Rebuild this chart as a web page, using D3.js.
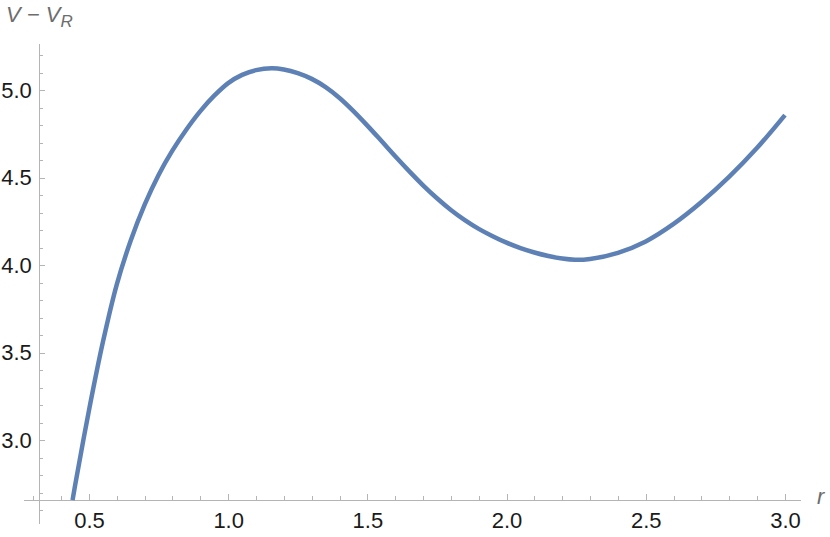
<!DOCTYPE html>
<html>
<head>
<meta charset="utf-8">
<script src="https://cdn.jsdelivr.net/npm/d3@7"></script>
<style>
  body { margin: 0; background: #fff; }
  svg text { font-family: "Liberation Sans", Arial, sans-serif; }
</style>
</head>
<body>
<svg width="830" height="537"></svg>
<script>
(function() {
  /* values */
  var rValues = [0.441, 0.45, 0.50, 0.55, 0.60, 0.65, 0.70, 0.75, 0.80, 0.85,
                 0.90, 0.95, 1.00, 1.05, 1.10, 1.156, 1.20, 1.25, 1.30, 1.35,
                 1.40, 1.45, 1.50, 1.55, 1.60, 1.65, 1.70, 1.75, 1.80, 1.85,
                 1.90, 1.95, 2.00, 2.05, 2.10, 2.15, 2.20, 2.246, 2.30, 2.40,
                 2.50, 2.60, 2.70, 2.80, 2.90, 3.00];
  var vValues = [2.657, 2.74, 3.17, 3.56, 3.89, 4.14, 4.345, 4.515, 4.655, 4.775,
                 4.88, 4.968, 5.04, 5.087, 5.114, 5.125, 5.118, 5.097, 5.064, 5.017,
                 4.955, 4.88, 4.797, 4.71, 4.622, 4.537, 4.456, 4.382, 4.315, 4.257,
                 4.207, 4.165, 4.128, 4.097, 4.072, 4.052, 4.037, 4.030, 4.035, 4.07,
                 4.135, 4.235, 4.36, 4.505, 4.67, 4.857];

  var xMajor = [0.5, 1.0, 1.5, 2.0, 2.5, 3.0];
  var xMinor = [0.3, 0.4, 0.6, 0.7, 0.8, 0.9, 1.1, 1.2, 1.3, 1.4, 1.6, 1.7, 1.8, 1.9,
                2.1, 2.2, 2.3, 2.4, 2.6, 2.7, 2.8, 2.9];
  var yMajor = [3.0, 3.5, 4.0, 4.5, 5.0];
  var yMinor = [2.6, 2.7, 2.8, 2.9, 3.1, 3.2, 3.3, 3.4, 3.6, 3.7, 3.8, 3.9,
                4.1, 4.2, 4.3, 4.4, 4.6, 4.7, 4.8, 4.9, 5.1, 5.2];

  var data = rValues.map(function(r, i) {
    return { r: r, v: vValues[i] };
  });

  var axisColor = '#b4b4b4',
      labelColor = '#6d6d6d';

  var svg = d3.select('svg');

  // plot extents (data units) and where the axes cross
  var xExtent = [0.263, 3.054],
      yExtent = [2.526, 5.269],
      origin = { r: 0.32, v: 2.657 };

  var x = d3.scaleLinear()
    .domain(xExtent)
    .range([23, 800]);
  var y = d3.scaleLinear()
    .domain(yExtent)
    .range([523, 43]);

  // x axis: minor ticks, then majors with labels
  var gx = svg.append('g')
    .attr('transform', 'translate(0,' + y(origin.v) + ')');
  gx.call(d3.axisBottom(x)
      .tickValues(xMinor)
      .tickSizeInner(-4)
      .tickSizeOuter(0)
      .tickFormat(''));
  gx.append('g').call(d3.axisBottom(x)
      .tickValues(xMajor)
      .tickSizeInner(-6)
      .tickSizeOuter(0)
      .tickPadding(12)
      .tickFormat(d3.format('.1f')))
    .select('.domain').remove();

  // y axis
  var gy = svg.append('g')
    .attr('transform', 'translate(' + x(origin.r) + ',0)');
  gy.call(d3.axisLeft(y)
      .tickValues(yMinor)
      .tickSizeInner(-4)
      .tickSizeOuter(0)
      .tickFormat(''));
  gy.append('g').call(d3.axisLeft(y)
      .tickValues(yMajor)
      .tickSizeInner(-6)
      .tickSizeOuter(0)
      .tickPadding(7)
      .tickFormat(d3.format('.1f')))
    .select('.domain').remove();

  svg.selectAll('.domain, .tick line')
    .attr('stroke', axisColor)
    .attr('shape-rendering', 'crispEdges');
  svg.selectAll('.tick text')
    .attr('fill', '#1a1a1a')
    .attr('font-size', 22);

  // the curve
  var line = d3.line()
    .x(function(d) { return x(d.r); })
    .y(function(d) { return y(d.v); })
    .curve(d3.curveCatmullRom.alpha(0.5));

  svg.append('path')
    .datum(data)
    .attr('d', line)
    .attr('fill', 'none')
    .attr('stroke', '#5e81b5')
    .attr('stroke-width', 4.5)
    .attr('stroke-linejoin', 'round');

  // axis labels
  var yl = svg.append('text')
    .attr('x', 6)
    .attr('y', 22)
    .attr('fill', labelColor)
    .attr('font-size', 22)
    .attr('font-style', 'italic');
  yl.append('tspan').text('V \u2212 V');
  yl.append('tspan')
    .attr('font-size', 17)
    .attr('dy', 5)
    .text('R');

  svg.append('text')
    .attr('x', 817)
    .attr('y', 504)
    .attr('fill', labelColor)
    .attr('font-size', 22)
    .attr('font-style', 'italic')
    .text('r');
})();
</script>
</body>
</html>
